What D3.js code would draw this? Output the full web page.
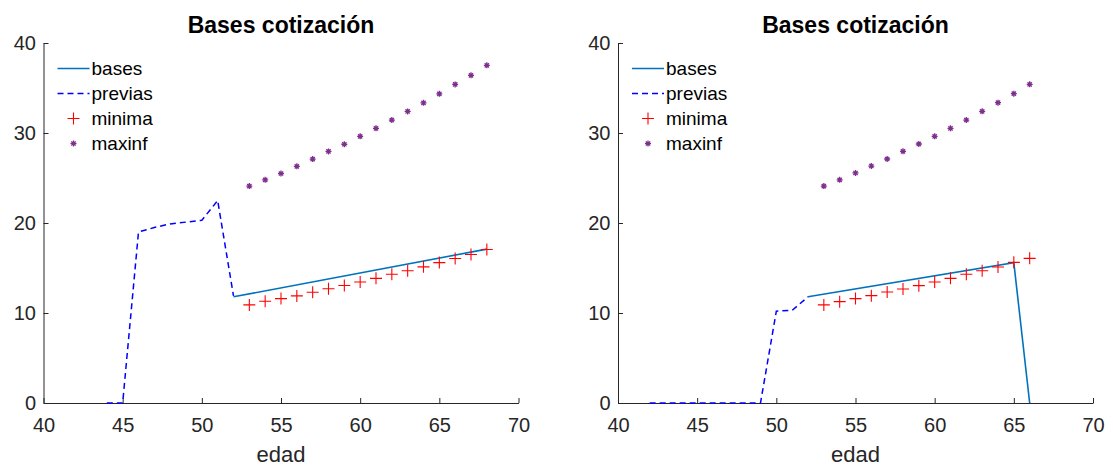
<!DOCTYPE html>
<html>
<head>
<meta charset="utf-8">
<script src="https://cdn.jsdelivr.net/npm/d3@7"></script>
<style>
  body { margin: 0; background: #fff; }
  svg { display: block; font-family: "Liberation Sans", Arial, sans-serif; }
</style>
</head>
<body>
<div id="chart"></div>
<script>
// Data
const xTicks = [40, 45, 50, 55, 60, 65, 70];
const yTicks = [0, 10, 20, 30, 40];

// left panel
const previasAgeL = [44, 45, 46, 47, 48, 49, 50, 51, 52];
const previasValL = [0, 0, 19.0, 19.5, 19.9, 20.1, 20.3, 22.5, 11.9];
const basesAgeL = [52, 68];
const basesValL = [11.8, 17.1];
const minimaAgeL = [53, 54, 55, 56, 57, 58, 59, 60, 61, 62, 63, 64, 65, 66, 67, 68];
const minimaValL = [10.9, 11.3, 11.6, 11.9, 12.3, 12.7, 13.05, 13.45, 13.85, 14.3, 14.7, 15.13, 15.6, 16.05, 16.5, 17.05];
const maxinfAgeL = [53, 54, 55, 56, 57, 58, 59, 60, 61, 62, 63, 64, 65, 66, 67, 68];
const maxinfValL = [24.1, 24.8, 25.5, 26.3, 27.1, 27.95, 28.75, 29.63, 30.52, 31.44, 32.4, 33.35, 34.35, 35.4, 36.41, 37.52];

// right panel
const previasAgeR = [42, 43, 44, 45, 46, 47, 48, 49, 50, 51, 52];
const previasValR = [0, 0, 0, 0, 0, 0, 0, 0, 10.2, 10.3, 11.8];
const basesAgeR = [52, 65, 66];
const basesValR = [11.8, 15.6, 0];
const minimaAgeR = [53, 54, 55, 56, 57, 58, 59, 60, 61, 62, 63, 64, 65, 66];
const minimaValR = [10.9, 11.26, 11.6, 11.93, 12.33, 12.67, 13.04, 13.44, 13.85, 14.3, 14.7, 15.11, 15.63, 16.07];
const maxinfAgeR = [53, 54, 55, 56, 57, 58, 59, 60, 61, 62, 63, 64, 65, 66];
const maxinfValR = [24.1, 24.8, 25.56, 26.33, 27.11, 27.96, 28.78, 29.63, 30.52, 31.44, 32.41, 33.37, 34.37, 35.41];

const legendLabels = ["bases", "previas", "minima", "maxinf"];

const colBases = "#0072BD";
const colPrevias = "#0000FF";
const colMinima = "#FF0000";
const colMaxinf = "#7E2F8E";
const colAxis = "#262626";

const width = 1113, height = 467;
const plotW = 475, plotH = 360, marginTop = 43;

const svg = d3.select("#chart")
    .append("svg")
    .attr("width", width)
    .attr("height", height);

function zip(a, b) { return a.map((v, i) => [v, b[i]]); }

function asterisk(cx, cy, r) {
    const k = r * 0.707;
    return `M${cx - r},${cy}h${2 * r}M${cx},${cy - r}v${2 * r}` +
           `M${cx - k},${cy - k}l${2 * k},${2 * k}M${cx - k},${cy + k}l${2 * k},${-2 * k}`;
}

function drawPanel(left, series) {
    const g = svg.append("g").attr("transform", `translate(${left},${marginTop})`);

    const x = d3.scaleLinear().domain([40, 70]).range([0, plotW]);
    const y = d3.scaleLinear().domain([0, 40]).range([plotH, 0]);

    // X-axis
    const gx = g.append("g")
        .attr("transform", `translate(0,${plotH})`)
        .call(d3.axisBottom(x).tickValues(xTicks).tickSizeInner(-5).tickSizeOuter(0).tickPadding(14.5));
    // Y-axis
    const gy = g.append("g")
        .call(d3.axisLeft(y).tickValues(yTicks).tickSizeInner(-5).tickSizeOuter(0).tickPadding(7.5));

    [gx, gy].forEach(a => {
        a.select(".domain").attr("stroke", colAxis).attr("stroke-width", 1);
        a.selectAll(".tick line").attr("stroke", colAxis).attr("stroke-width", 1);
        a.selectAll(".tick text")
            .style("font-size", "20px")
            .style("font-family", "Liberation Sans, Arial, sans-serif")
            .attr("fill", colAxis);
    });

    // Title
    g.append("text")
        .attr("x", plotW / 2)
        .attr("y", -10)
        .attr("text-anchor", "middle")
        .style("font-size", "23px")
        .style("font-weight", "bold")
        .attr("fill", "#000")
        .text("Bases cotización");

    // X-axis label
    g.append("text")
        .attr("x", plotW / 2)
        .attr("y", plotH + 59)
        .attr("text-anchor", "middle")
        .style("font-size", "22px")
        .attr("fill", colAxis)
        .text("edad");

    const line = d3.line().x(d => x(d[0])).y(d => y(d[1]));

    // previas (dashed)
    g.append("path")
        .datum(series.previas)
        .attr("d", line)
        .attr("fill", "none")
        .attr("stroke", colPrevias)
        .attr("stroke-width", 1.5)
        .attr("stroke-dasharray", "6,4");

    // bases
    g.append("path")
        .datum(series.bases)
        .attr("d", line)
        .attr("fill", "none")
        .attr("stroke", colBases)
        .attr("stroke-width", 1.6);

    // minima: plus markers
    g.selectAll("path.minima")
        .data(series.minima)
        .join("path")
        .attr("class", "minima")
        .attr("d", d => `M${x(d[0]) - 6},${y(d[1])}h12M${x(d[0])},${y(d[1]) - 6}v12`)
        .attr("stroke", colMinima)
        .attr("stroke-width", 1.1)
        .attr("fill", "none");

    // maxinf: small asterisks
    g.selectAll("path.maxinf")
        .data(series.maxinf)
        .join("path")
        .attr("class", "maxinf")
        .attr("d", d => asterisk(x(d[0]), y(d[1]), 3))
        .attr("stroke", colMaxinf)
        .attr("stroke-width", 1.3)
        .attr("fill", "none");

    // Legend
    const legend = g.append("g").attr("transform", "translate(14,25.5)");
    const rowH = 25;
    legendLabels.forEach((lab, i) => {
        const ly = i * rowH;
        if (i === 0 || i === 1) {
            legend.append("line")
                .attr("x1", 0).attr("x2", 32)
                .attr("y1", ly).attr("y2", ly)
                .attr("stroke", i === 0 ? colBases : colPrevias)
                .attr("stroke-width", 1.5)
                .attr("stroke-dasharray", i === 1 ? "6,4" : null);
        } else if (i === 2) {
            legend.append("path")
                .attr("d", `M10,${ly}h12M16,${ly - 6}v12`)
                .attr("stroke", colMinima)
                .attr("stroke-width", 1.1);
        } else {
            legend.append("path")
                .attr("d", asterisk(16, ly, 3))
                .attr("stroke", colMaxinf)
                .attr("stroke-width", 1.3);
        }
        legend.append("text")
            .attr("x", 34)
            .attr("y", ly)
            .attr("dy", "0.35em")
            .style("font-size", "19px")
            .attr("fill", "#000")
            .text(lab);
    });
}

drawPanel(43.5, {
    previas: zip(previasAgeL, previasValL),
    bases: zip(basesAgeL, basesValL),
    minima: zip(minimaAgeL, minimaValL),
    maxinf: zip(maxinfAgeL, maxinfValL)
});

drawPanel(618, {
    previas: zip(previasAgeR, previasValR),
    bases: zip(basesAgeR, basesValR),
    minima: zip(minimaAgeR, minimaValR),
    maxinf: zip(maxinfAgeR, maxinfValR)
});
</script>
</body>
</html>
